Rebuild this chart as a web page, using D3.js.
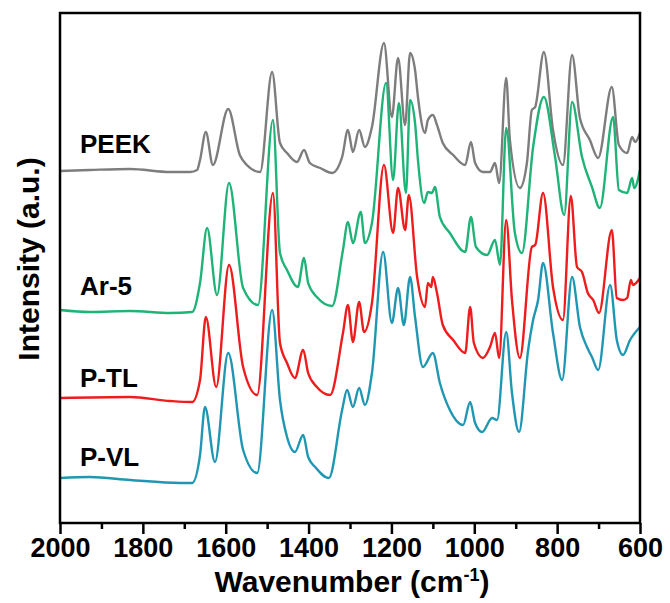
<!DOCTYPE html>
<html lang="en">
<head>
    <meta charset="UTF-8">
    <title>FTIR spectra</title>
    <script type="text/javascript" src="https://d3js.org/d3.v7.min.js"></script>
    <style>
        body { margin: 0; background: #fff; }
        text { font-family: Arial, "Liberation Sans", sans-serif; font-weight: bold; fill: #000; }
    </style>
</head>
<body>
    <script type="text/javascript">
       // [wavenumber, intensity offset a.u.]
       var peek = [[2000,352],[1928,353],[1831,354],[1734,351],[1686,351],[1669,353],[1662,363],[1648,391],
                   [1631,358],[1594,414],[1566,368],[1549,358],[1517,351],[1488,451],[1469,380],[1452,370],
                   [1428,361],[1411,373],[1397,360],[1372,355],[1343,350],[1319,366],[1305,393],[1293,371],
                   [1278,393],[1264,376],[1247,396],[1218,480],[1199,406],[1184,465],[1167,398],[1155,470],
                   [1143,453],[1136,426],[1119,390],[1112,403],[1100,408],[1090,398],[1076,380],[1051,368],
                   [1022,358],[1008,381],[998,360],[979,351],[962,351],[950,360],[940,340],[923,445],
                   [914,383],[890,335],[873,360],[861,413],[853,416],[832,471],[810,393],[786,358],
                   [764,468],[745,405],[721,383],[701,365],[668,436],[651,378],[631,370],[619,386],
                   [612,381],[600,390]];

       var ar5 = [[2000,213],[1928,211],[1831,212],[1734,210],[1681,211],[1662,240],[1645,295],[1621,228],
                  [1592,340],[1558,235],[1522,218],[1486,403],[1469,270],[1452,253],[1426,236],[1411,265],
                  [1401,240],[1380,226],[1343,217],[1317,273],[1305,301],[1293,280],[1274,311],[1264,280],
                  [1247,300],[1213,440],[1196,343],[1182,420],[1165,330],[1155,423],[1143,400],[1136,363],
                  [1121,320],[1112,331],[1102,330],[1095,336],[1083,306],[1059,290],[1022,271],[1008,306],
                  [996,276],[969,268],[950,283],[938,258],[923,395],[902,290],[885,270],[858,376],
                  [832,426],[805,366],[783,308],[764,421],[740,366],[716,336],[697,315],[665,406],
                  [651,333],[631,330],[619,345],[614,335],[600,353]];

       var ptl = [[2000,125],[1831,126],[1734,122],[1681,121],[1662,143],[1648,206],[1623,136],[1592,258],
                  [1558,156],[1524,128],[1486,330],[1469,180],[1452,160],[1433,145],[1413,173],[1401,150],
                  [1380,136],[1348,128],[1317,190],[1305,218],[1293,181],[1278,221],[1266,191],[1247,220],
                  [1218,358],[1196,290],[1184,335],[1167,293],[1158,328],[1138,246],[1119,216],[1112,240],
                  [1104,236],[1100,246],[1090,230],[1076,198],[1051,183],[1022,170],[1010,216],[1001,180],
                  [979,165],[962,176],[950,190],[940,165],[923,303],[909,223],[890,165],[861,276],
                  [853,278],[834,330],[810,236],[786,203],[767,327],[752,256],[740,251],[726,230],
                  [713,223],[699,210],[668,293],[656,225],[641,223],[631,225],[622,243],[617,238],[600,245]];

       var pvl = [[2000,45],[1928,46],[1831,43],[1710,40],[1681,40],[1662,68],[1650,116],[1626,61],
                  [1594,170],[1558,73],[1524,50],[1488,213],[1469,123],[1452,86],[1433,71],[1413,88],
                  [1401,66],[1384,56],[1351,45],[1319,113],[1307,133],[1293,116],[1278,135],[1264,118],
                  [1247,150],[1220,271],[1199,200],[1184,235],[1170,198],[1155,246],[1143,206],[1124,156],
                  [1100,170],[1083,140],[1059,113],[1027,98],[1010,121],[998,100],[981,91],[957,105],
                  [945,103],[923,191],[909,130],[892,91],[870,173],[858,203],[846,223],[834,260],
                  [810,190],[788,143],[764,246],[745,196],[728,176],[716,166],[701,153],[672,238],
                  [656,183],[641,168],[624,183],[600,196]];

       var names = ["PEEK", "Ar-5", "P-TL", "P-VL"];
       var colors = ["#7d7d7d", "#1fb378", "#ee1c1c", "#1f97b2"];
       var labelY = [370, 228, 136, 57];
       var series = [peek, ar5, ptl, pvl];
       var majorTicks = [2000, 1800, 1600, 1400, 1200, 1000, 800, 600];

       var width = 670, height = 603;
       var plotLeft = 60, plotRight = 640, plotTop = 13, plotBottom = 523;

       var svg = d3.select("body")
                   .append("svg")
                   .attr("width", width)
                   .attr("height", height);

       var xScale = d3.scaleLinear()
                      .domain([2000, 600])
                      .range([plotLeft, plotRight]);

       var yScale = d3.scaleLinear()
                      .domain([0, 510])
                      .range([plotBottom, plotTop]);

       var line = d3.line()
                    .x(function(d){ return xScale(d[0]); })
                    .y(function(d){ return yScale(d[1]); })
                    .curve(d3.curveMonotoneX);

       svg.selectAll("path.spec")
          .data(series)
          .enter()
          .append("path")
          .attr("class", "spec")
          .attr("d", line)
          .attr("fill", "none")
          .attr("stroke", function(d, i){ return colors[i]; })
          .attr("stroke-width", 2.4)
          .attr("stroke-linejoin", "round");

       svg.selectAll("text.name")
          .data(names)
          .enter()
          .append("text")
          .attr("class", "name")
          .attr("x", 80)
          .attr("y", function(d, i){ return yScale(labelY[i]); })
          .style("font-size", "26px")
          .text(function(d){ return d; });

       // minor ticks
       var xMinor = d3.axisBottom(xScale)
                      .tickValues(d3.range(1900, 600, -200))
                      .tickSize(6)
                      .tickFormat("");
       svg.append("g")
          .attr("transform", "translate(0," + plotBottom + ")")
          .call(xMinor)
          .call(function(g){ g.select(".domain").remove(); })
          .selectAll("line").attr("stroke-width", 2.5);

       var xAxis = d3.axisBottom(xScale)
                     .tickValues(majorTicks)
                     .tickSize(11)
                     .tickPadding(4)
                     .tickFormat(d3.format("d"));
       var xg = svg.append("g")
                   .attr("transform", "translate(0," + plotBottom + ")")
                   .call(xAxis);
       xg.select(".domain").remove();
       xg.selectAll("line").attr("stroke-width", 2.5);
       xg.selectAll("text")
         .style("font-size", "27px")
         .style("font-family", "Arial, 'Liberation Sans', sans-serif")
         .style("font-weight", "bold");

       svg.append("rect")
          .attr("x", plotLeft)
          .attr("y", plotTop)
          .attr("width", plotRight - plotLeft)
          .attr("height", plotBottom - plotTop)
          .attr("fill", "none")
          .attr("stroke", "#000")
          .attr("stroke-width", 2.5);

       var xt = svg.append("text")
                   .attr("x", (plotLeft + plotRight) / 2 + 2)
                   .attr("y", 592)
                   .attr("text-anchor", "middle")
                   .style("font-size", "30px");
       xt.append("tspan").text("Wavenumber (cm");
       xt.append("tspan").attr("dy", -11).style("font-size", "18px").text("-1");
       xt.append("tspan").attr("dy", 11).text(")");

       svg.append("text")
          .attr("transform", "translate(39," + 259 + ") rotate(-90)")
          .attr("text-anchor", "middle")
          .style("font-size", "30px")
          .text("Intensity (a.u.)");
    </script>
</body>
</html>
